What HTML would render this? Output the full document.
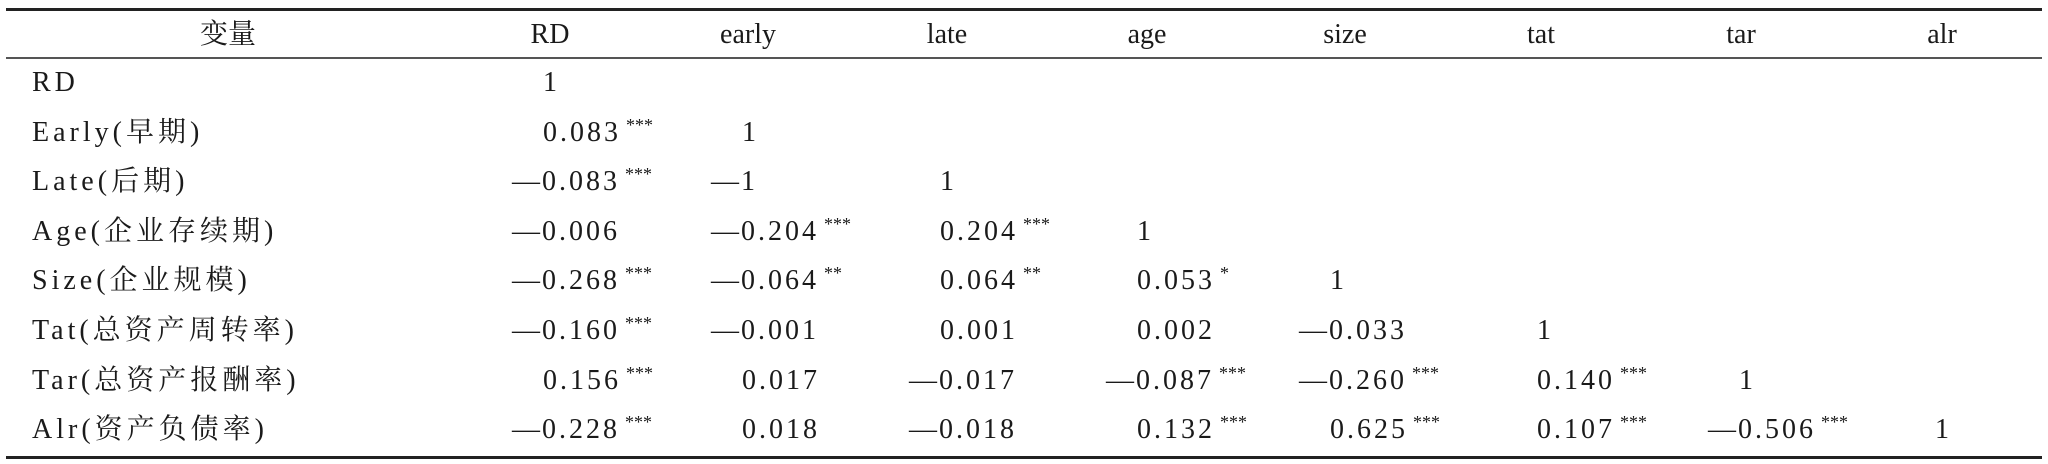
<!DOCTYPE html>
<html><head><meta charset="utf-8">
<style>
html,body{margin:0;padding:0;background:#fff;}
#t{position:relative;width:2048px;height:464px;overflow:hidden;background:#fff;font-family:"Liberation Serif","Noto Serif CJK SC","Noto Sans CJK SC",serif;color:#1a1a1a;font-size:28px;}
.ln{position:absolute;left:6px;width:2036px;}
.c{position:absolute;white-space:nowrap;line-height:1;transform:translateY(-50%);}
.h{transform:translate(-50%,-50%);}
.lab{letter-spacing:4px;}
.num{letter-spacing:3px;}
.st{font-size:18px;position:relative;top:-10px;margin-left:5px;letter-spacing:0;}
</style></head>
<body>
<div id="t">
<div class="ln" style="top:8px;height:3px;background:#222"></div>
<div class="ln" style="top:57px;height:2px;background:#555"></div>
<div class="ln" style="top:456px;height:3px;background:#222"></div>
</div>
<script>
const headers=["变量","RD","early","late","age","size","tat","tar","alr"];
const headerX=[228,550,748,947,1147,1345,1541,1741,1942];
const colX=[543,742,940,1137,1330,1537,1739,1935];
const rowLabels=["RD","Early(早期)","Late(后期)","Age(企业存续期)","Size(企业规模)","Tat(总资产周转率)","Tar(总资产报酬率)","Alr(资产负债率)"];
const values=[
["1"],
["0.083","1"],
["-0.083","-1","1"],
["-0.006","-0.204","0.204","1"],
["-0.268","-0.064","0.064","0.053","1"],
["-0.160","-0.001","0.001","0.002","-0.033","1"],
["0.156","0.017","-0.017","-0.087","-0.260","0.140","1"],
["-0.228","0.018","-0.018","0.132","0.625","0.107","-0.506","1"]];
const stars=[
[""],
["***",""],
["***","",""],
["","***","***",""],
["***","**","**","*",""],
["***","","","","",""],
["***","","","***","***","***",""],
["***","","","***","***","***","***",""]];
const t=document.getElementById('t');
headers.forEach((h,i)=>{
  const d=document.createElement('div');
  d.className='c h';
  d.style.left=headerX[i]+'px';d.style.top='35px';
  d.textContent=h;
  
  
  t.appendChild(d);
});
rowLabels.forEach((lab,r)=>{
  const y=83+r*49.6;
  const d=document.createElement('div');
  d.className='c lab';d.style.left='32px';d.style.top=y+'px';
  d.textContent=lab;
  
  
  t.appendChild(d);
  values[r].forEach((v,c)=>{
    const e=document.createElement('div');
    e.className='c num';
    const neg=v[0]==='-';
    e.style.left=(colX[c]-(neg?31:0))+'px';
    e.style.top=y+'px';
    e.innerHTML=(neg?'<span style="letter-spacing:2px">—</span>'+v.slice(1):v)+(stars[r][c]?'<span class="st">'+stars[r][c]+'</span>':'');
    
    
    t.appendChild(e);
  });
});
</script>
</body></html>
